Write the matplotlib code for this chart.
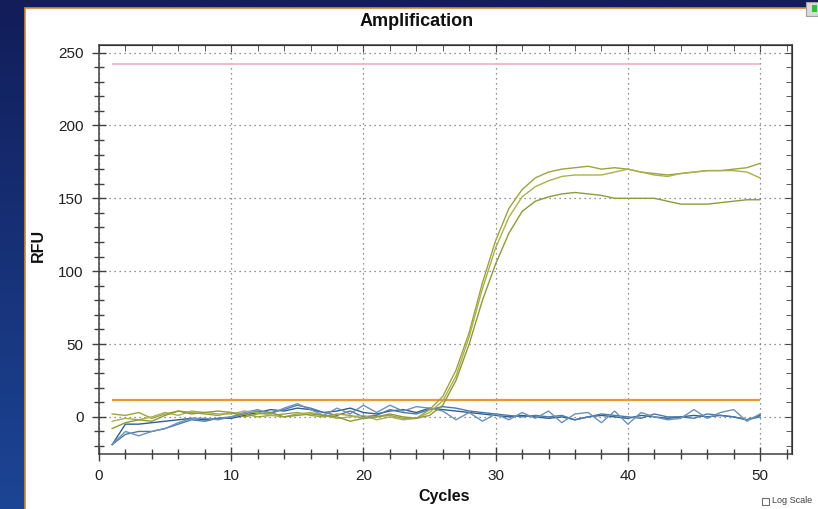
import numpy as np
import matplotlib.pyplot as plt
from matplotlib.patches import Rectangle
from matplotlib.colors import LinearSegmentedColormap
from matplotlib.ticker import MultipleLocator

plt.rcParams['font.family'] = ['Liberation Sans', 'DejaVu Sans']

# data
cycles = list(range(1, 51))

olive_a = [2, 1, 3, -1, 2, 4, 3, 2, 1, 3, 2, 0, 1, 2, 3, 1, 0, 2, 1, -1, 0, 1, -1, -1, 5,
           14, 32, 58, 92, 121, 143, 156, 164, 168, 170, 171, 172, 170, 171, 170,
           168, 167, 166, 167, 168, 169, 169, 170, 171, 174]
olive_b = [-3, -1, -2, 0, 3, 1, 4, 3, 2, 2, 4, 3, 1, 0, 2, 3, 1, -1, 0, 1, -2, 0, -2, -1, 3,
           11, 28, 55, 88, 116, 137, 151, 158, 162, 165, 166, 166, 166, 168, 170,
           168, 166, 165, 167, 168, 169, 169, 169, 168, 164]
olive_c = [-8, -4, -2, -3, 1, 4, 2, 3, 4, 3, 0, 2, 3, 0, 1, 2, 1, 0, -3, -1, 0, 2, 0, -1, 1,
           8, 25, 50, 80, 105, 126, 141, 148, 151, 153, 154, 153, 152, 150, 150,
           150, 150, 148, 146, 146, 146, 147, 148, 149, 149]

blue_a = [-19, -5, -5, -4, -3, -2, -1, -2, -1, -1, 1, 3, 5, 4, 6, 5, 3, 4, 6, 3, 2, 4, 5, 3, 6,
          5, 4, 3, 2, 1, 0, 1, 0, -1, 0, -2, 0, 1, 0, -1, 1, 0, -1, 0, 1, 0, 1, 0, -2, 1]
blue_b = [-19, -12, -10, -10, -8, -5, -2, -3, -1, 0, 2, 4, 3, 5, 8, 6, 3, 1, 4, 0, 1, 5, 3, 2, 5,
          7, 6, 4, 3, 2, 1, 0, 1, 0, 1, -2, 0, 2, 1, 0, -1, 2, 0, 0, -1, 2, 1, 0, -2, 0]
blue_c = [-19, -10, -13, -10, -8, -4, -1, -1, -2, 0, 3, 5, 2, 6, 9, 5, 1, 6, 2, 8, 3, 8, 4, 7, 6,
          4, -2, 3, -3, 2, -2, 3, -1, 4, -4, 2, 3, -4, 4, -5, 3, 0, -2, -1, 5, -1, 3, 5, -3, 2]

threshold = 11.5
upper_line = 242

fig = plt.figure(figsize=(8.18, 5.09), dpi=100)

# slide background + white panel
bg = fig.add_axes([0, 0, 1, 1], zorder=-2)
grad = np.linspace(0, 1, 256).reshape(-1, 1)
bg.imshow(grad, cmap=LinearSegmentedColormap.from_list('bg', ['#121d5a', '#1c4595']),
          aspect='auto', extent=[0, 1, 0, 1], origin='upper')
bg.add_patch(Rectangle((25 / 818, -0.01), 1, 1.01 - 8 / 509, transform=bg.transAxes,
                       facecolor='white', edgecolor='#d08a2a', lw=1.2))
bg.add_patch(Rectangle((806 / 818, 1 - 16 / 509), 12 / 818, 14 / 509, transform=bg.transAxes,
                       facecolor='#d8dcd8', edgecolor='#a0a0a0', lw=0.8))
bg.add_patch(Rectangle((812 / 818, 1 - 12 / 509), 5 / 818, 7 / 509, transform=bg.transAxes,
                       facecolor='#30c030', edgecolor='none'))
bg.set_xlim(0, 1)
bg.set_ylim(0, 1)
bg.axis('off')

ax = fig.add_axes([0.121, 0.108, 0.847, 0.803])

ax.hlines(upper_line, cycles[0], cycles[-1], color='#e8b8c6', lw=1.3, zorder=3)
ax.hlines(threshold, cycles[0], cycles[-1], color='#e89a2c', lw=1.6, zorder=3)

for vals, col in [(blue_a, '#2d5f92'), (blue_b, '#4a7bab'), (blue_c, '#6e92b8')]:
    ax.plot(cycles, vals, color=col, lw=1.0, zorder=4)
for vals, col in [(olive_a, '#9da43e'), (olive_b, '#aab04e'), (olive_c, '#8f9a3a')]:
    ax.plot(cycles, vals, color=col, lw=1.0, zorder=5)

ax.set_xlim(0, 52.4)
ax.set_ylim(-25.5, 255)
ax.xaxis.set_major_locator(MultipleLocator(10))
ax.xaxis.set_minor_locator(MultipleLocator(2))
ax.yaxis.set_major_locator(MultipleLocator(50))
ax.yaxis.set_minor_locator(MultipleLocator(10))
ax.grid(True, which='major', linestyle=(0, (1, 3)), color='#707070', lw=0.9)

ax.tick_params(which='major', direction='inout', length=10, width=1, color='#404040',
               labelsize=11, labelcolor='#202020', pad=6)
ax.tick_params(which='minor', direction='inout', length=7, width=1, color='#404040')
for s in ax.spines.values():
    s.set_color('#404040')
    s.set_linewidth(1.1)

top = ax.secondary_xaxis('top')
top.xaxis.set_major_locator(MultipleLocator(10))
top.xaxis.set_minor_locator(MultipleLocator(2))
top.tick_params(which='both', direction='in', labeltop=False, color='#404040')
top.tick_params(which='major', length=5)
top.tick_params(which='minor', length=4)
right = ax.secondary_yaxis('right')
right.yaxis.set_major_locator(MultipleLocator(50))
right.yaxis.set_minor_locator(MultipleLocator(10))
right.tick_params(which='both', direction='in', labelright=False, color='#404040')
right.tick_params(which='major', length=5)
right.tick_params(which='minor', length=4)

fig.text(417 / 818, 1 - 22 / 509, 'Amplification', ha='center', va='center',
         fontsize=13, fontweight='bold', color='#101010')
fig.text(444 / 818, 1 - 497 / 509, 'Cycles', ha='center', va='center',
         fontsize=11.5, fontweight='bold', color='#101010')
fig.text(38 / 818, 1 - 245 / 509, 'RFU', ha='center', va='center', rotation=90,
         fontsize=11.5, fontweight='bold', color='#101010')

# "Log Scale" checkbox in the bottom-right corner
bg.add_patch(Rectangle((762 / 818, 4 / 509), 7 / 818, 7 / 509, transform=bg.transAxes,
                       facecolor='white', edgecolor='#707070', lw=0.8))
fig.text(772 / 818, 4 / 509, 'Log Scale', ha='left', va='bottom', fontsize=6.5, color='#404040')

fig.savefig('out.png', dpi=100, facecolor=fig.get_facecolor())
